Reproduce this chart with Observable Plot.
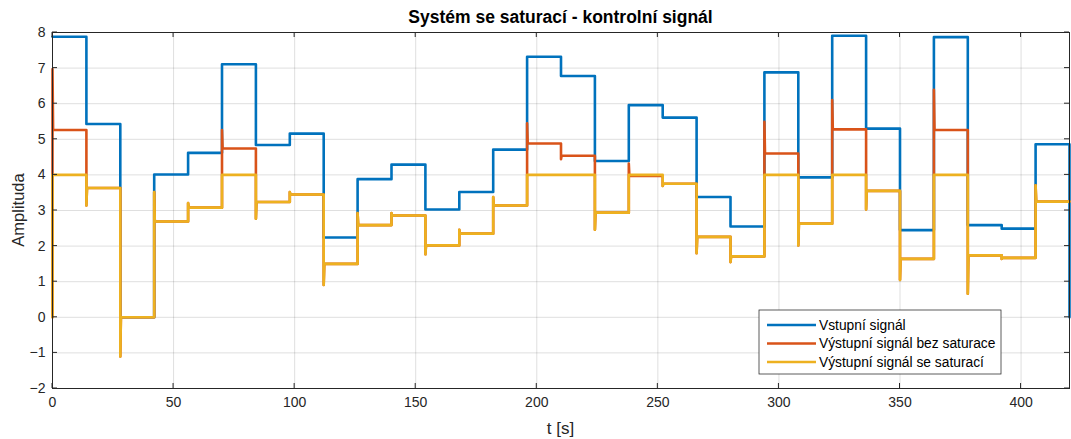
<!DOCTYPE html>
<html>
<head>
<meta charset="utf-8">
<script src="https://cdn.jsdelivr.net/npm/d3@7"></script>
<script src="https://cdn.jsdelivr.net/npm/@observablehq/plot@0.6"></script>
<style>
  body { margin: 0; background: #fff; }
  svg { display: block; }
</style>
</head>
<body>
<div id="chart"></div>
<script>
// Step changes of the control signal (every 14 s) and the simulation end
const stepTimes = [0, 14, 28, 42, 56, 70, 84, 98, 112, 126, 140, 154, 168, 182, 196,
                   210, 224, 238, 252, 266, 280, 294, 308, 322, 336, 350, 364, 378, 392, 406];
const endTime = 420;

// Input signal level held over each interval, and its value at the end
const inputLevels = [7.88, 5.43, 0.00, 4.01, 4.62, 7.11, 4.84, 5.16, 2.24, 3.88,
                     4.29, 3.03, 3.52, 4.71, 7.32, 6.78, 4.39, 5.96, 5.61, 3.38,
                     2.55, 6.88, 3.93, 7.91, 5.30, 2.45, 7.87, 2.59, 2.49, 4.86];
const inputFinal = 0;

// Output without saturation: settled level and transient peak at each step
const outputLevels = [5.26, 3.63, 0.00, 2.69, 3.08, 4.74, 3.24, 3.45, 1.50, 2.59,
                      2.86, 2.02, 2.35, 3.14, 4.88, 4.54, 2.94, 3.97, 3.75, 2.26,
                      1.71, 4.60, 2.63, 5.28, 3.55, 1.64, 5.26, 1.74, 1.67, 3.25];
const outputPeaks  = [6.97, 3.14, -1.10, 3.52, 3.21, 5.26, 2.77, 3.52, 0.91, 2.93,
                      2.93, 1.77, 2.46, 3.38, 5.45, 4.44, 2.46, 4.32, 3.69, 1.80,
                      1.55, 5.49, 2.02, 6.10, 3.03, 1.05, 6.39, 0.66, 1.64, 3.71];

// Output with saturation (limited to 4): settled level and transient peak
const saturatedLevels = [4.00, 3.63, 0.00, 2.69, 3.08, 4.00, 3.24, 3.45, 1.50, 2.59,
                         2.86, 2.02, 2.35, 3.14, 4.00, 4.00, 2.94, 4.00, 3.75, 2.26,
                         1.71, 4.00, 2.63, 4.00, 3.55, 1.64, 4.00, 1.74, 1.67, 3.25];
const saturatedPeaks  = [4.00, 3.14, -1.10, 3.52, 3.21, 4.00, 2.77, 3.52, 0.91, 2.93,
                         2.93, 1.77, 2.46, 3.38, 4.00, 4.00, 2.46, 4.00, 3.69, 1.80,
                         1.55, 4.00, 2.02, 4.00, 3.03, 1.05, 4.00, 0.66, 1.64, 3.71];

const xTicks = [0, 50, 100, 150, 200, 250, 300, 350, 400];
const yTicks = [-2, -1, 0, 1, 2, 3, 4, 5, 6, 7, 8];

const seriesNames = ["Vstupní signál", "Výstupní signál bez saturace", "Výstupní signál se saturací"];
const seriesColors = ["#0072BD", "#D95319", "#EDB120"];

const titleText = "Systém se saturací - kontrolní signál";
const xLabel = "t [s]";
const yLabel = "Amplituda";

// Turn held levels (and optional transient peaks) into a staircase polyline
function staircase(levels, peaks, startValue, finalValue) {
  const pts = [];
  let prev = startValue;
  stepTimes.forEach((t, i) => {
    pts.push({t, v: prev});
    if (peaks) {
      pts.push({t, v: peaks[i]});
      pts.push({t: t + 0.25, v: levels[i]});
    } else {
      pts.push({t, v: levels[i]});
    }
    prev = levels[i];
  });
  pts.push({t: endTime, v: prev});
  if (finalValue !== undefined) pts.push({t: endTime, v: finalValue});
  return pts;
}

const inputPath = staircase(inputLevels, null, inputLevels[0], inputFinal);
const outputPath = staircase(outputLevels, outputPeaks, 0);
const saturatedPath = staircase(saturatedLevels, saturatedPeaks, 0);

const axisColor = "#262626";
const W = 1071, H = 439;
const font = "'Liberation Sans', Arial, sans-serif";

const plot = Plot.plot({
  width: W,
  height: H,
  marginLeft: 52,
  marginRight: 2,
  marginTop: 32,
  marginBottom: 51,
  style: {fontFamily: font, fontSize: "14px", color: axisColor, background: "#fff"},
  x: {domain: [0, endTime]},
  y: {domain: [-2, 8]},
  marks: [
    Plot.gridX(xTicks, {stroke: axisColor, strokeOpacity: 0.15, strokeWidth: 1}),
    Plot.gridY(yTicks, {stroke: axisColor, strokeOpacity: 0.15, strokeWidth: 1}),
    Plot.line(inputPath, {x: "t", y: "v", stroke: seriesColors[0], strokeWidth: 2.6, strokeLinejoin: "round"}),
    Plot.line(outputPath, {x: "t", y: "v", stroke: seriesColors[1], strokeWidth: 2.6, strokeLinejoin: "round"}),
    Plot.line(saturatedPath, {x: "t", y: "v", stroke: seriesColors[2], strokeWidth: 2.6, strokeLinejoin: "round"}),
    Plot.frame({stroke: axisColor, strokeWidth: 1}),
    Plot.axisX(xTicks, {tickSize: 0, tickPadding: 9, fontSize: 14, fill: axisColor, label: null}),
    Plot.axisY(yTicks, {tickSize: 0, tickPadding: 7, fontSize: 14, fill: axisColor, label: null})
  ]
});

document.getElementById("chart").appendChild(plot);

// Inward tick marks on all four sides, title, axis labels and legend
const svg = d3.select(plot);
const xs = plot.scale("x"), ys = plot.scale("y");
const px = v => xs.apply(v), py = v => ys.apply(v);
const frameLeft = px(0), frameRight = px(endTime), frameTop = py(8), frameBottom = py(-2);
const tickLen = 5;

const tickGroup = svg.append("g").attr("stroke", axisColor).attr("stroke-width", 1);
xTicks.forEach(t => {
  tickGroup.append("line").attr("x1", px(t)).attr("x2", px(t)).attr("y1", frameBottom).attr("y2", frameBottom - tickLen);
  tickGroup.append("line").attr("x1", px(t)).attr("x2", px(t)).attr("y1", frameTop).attr("y2", frameTop + tickLen);
});
yTicks.forEach(v => {
  tickGroup.append("line").attr("y1", py(v)).attr("y2", py(v)).attr("x1", frameLeft).attr("x2", frameLeft + tickLen);
  tickGroup.append("line").attr("y1", py(v)).attr("y2", py(v)).attr("x1", frameRight).attr("x2", frameRight - tickLen);
});

svg.append("text")
  .attr("x", (frameLeft + frameRight) / 2).attr("y", 23)
  .attr("text-anchor", "middle").attr("font-family", font)
  .attr("font-size", 17.5).attr("font-weight", "bold").attr("fill", "#000")
  .text(titleText);
svg.append("text")
  .attr("x", (frameLeft + frameRight) / 2).attr("y", 434)
  .attr("text-anchor", "middle").attr("font-family", font)
  .attr("font-size", 17).attr("fill", axisColor)
  .text(xLabel);
svg.append("text")
  .attr("transform", `translate(24,${(frameTop + frameBottom) / 2}) rotate(-90)`)
  .attr("text-anchor", "middle").attr("font-family", font)
  .attr("font-size", 16.5).attr("fill", axisColor)
  .text(yLabel);

const legend = svg.append("g").attr("transform", "translate(759,310)");
legend.append("rect").attr("width", 242).attr("height", 64)
  .attr("fill", "#fff").attr("stroke", axisColor).attr("stroke-width", 0.75);
seriesNames.forEach((name, i) => {
  const ly = 15 + i * 18.5;
  legend.append("line").attr("x1", 8).attr("x2", 57).attr("y1", ly).attr("y2", ly)
    .attr("stroke", seriesColors[i]).attr("stroke-width", 2.6);
  legend.append("text").attr("x", 60).attr("y", ly).attr("dy", "0.35em")
    .attr("text-anchor", "start")
    .attr("font-family", font).attr("font-size", 13.8).attr("fill", "#000")
    .text(name);
});
</script>
</body>
</html>
